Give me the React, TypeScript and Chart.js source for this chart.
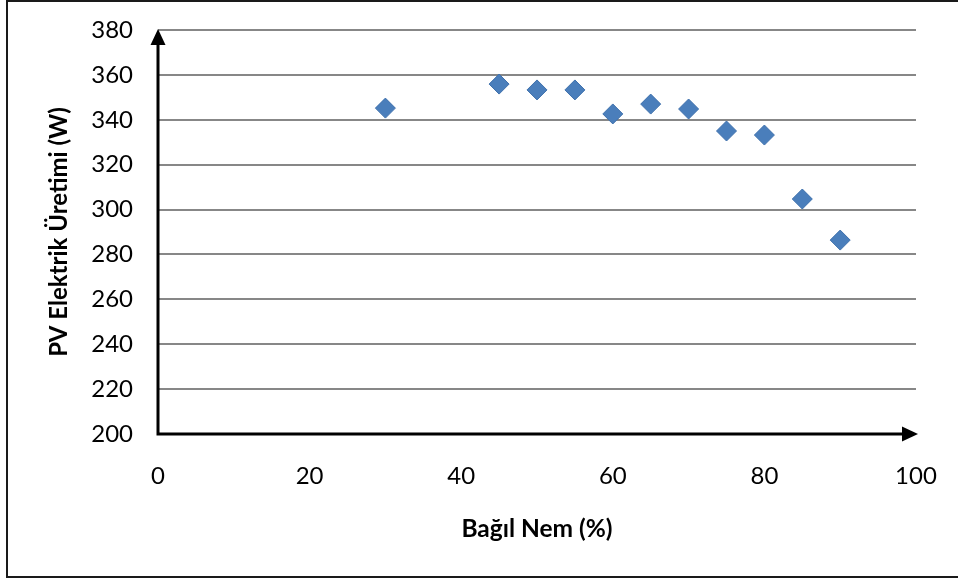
import React, { useEffect, useRef } from "react";
import { Chart, registerables } from "chart.js";

Chart.register(...registerables);

const humidity = [30, 45, 50, 55, 60, 65, 70, 75, 80, 85, 90];
const pvPower = [345.2, 355.9, 353.3, 353.3, 342.6, 347, 344.8, 335, 333.2, 304.7, 286.4];
const xTicks = [0, 20, 40, 60, 80, 100];
const yTicks = [200, 220, 240, 260, 280, 300, 320, 340, 360, 380];
const xTitle = "Bağıl Nem (%)";
const yTitle = "PV Elektrik Üretimi (W)";

const FONT = "Lato, 'Open Sans', sans-serif";

const framePlugin = {
  id: "frameAndAxes",
  beforeDraw(chart: any) {
    const ctx = chart.ctx;
    ctx.save();
    ctx.fillStyle = "#ffffff";
    ctx.fillRect(0, 0, chart.width, chart.height);
    ctx.strokeStyle = "#1a1a1a";
    ctx.lineWidth = 2;
    ctx.strokeRect(7, 1, chart.width + 20, 576);
    ctx.restore();
  },
  beforeDatasetsDraw(chart: any) {
    const ctx = chart.ctx;
    const x = chart.scales.x;
    const y = chart.scales.y;
    const x0 = x.getPixelForValue(0);
    const x1 = x.getPixelForValue(100);
    const y0 = y.getPixelForValue(200);
    const y1 = y.getPixelForValue(380);
    ctx.save();
    ctx.strokeStyle = "#000";
    ctx.fillStyle = "#000";
    ctx.lineWidth = 3;
    ctx.beginPath();
    ctx.moveTo(x0, y0);
    ctx.lineTo(x0, y1 + 12);
    ctx.moveTo(x0 - 1.5, y0);
    ctx.lineTo(x1 - 10, y0);
    ctx.stroke();
    ctx.beginPath();
    ctx.moveTo(x0, y1 - 1);
    ctx.lineTo(x0 - 7.5, y1 + 15);
    ctx.lineTo(x0 + 7.5, y1 + 15);
    ctx.closePath();
    ctx.fill();
    ctx.beginPath();
    ctx.moveTo(x1 + 2, y0);
    ctx.lineTo(x1 - 14, y0 - 7.5);
    ctx.lineTo(x1 - 14, y0 + 7.5);
    ctx.closePath();
    ctx.fill();
    ctx.restore();
  },
};

export default function App() {
  const ref = useRef<HTMLCanvasElement>(null);
  useEffect(() => {
    document.body.style.margin = "0";
    const canvas = ref.current!;
    const chart = new Chart(canvas, {
      type: "scatter",
      data: {
        datasets: [
          {
            label: "PV",
            data: humidity.map((h, i) => ({ x: h, y: pvPower[i] })),
            pointStyle: "rectRot",
            pointRadius: 10,
            backgroundColor: "#4A7EBB",
            borderColor: "#3F71AD",
            borderWidth: 1,
          },
        ],
      },
      options: {
        animation: false,
        responsive: false,
        layout: { padding: { left: 0, right: 42, top: 30, bottom: 0 } },
        plugins: { legend: { display: false }, tooltip: { enabled: false } },
        scales: {
          x: {
            type: "linear",
            min: 0,
            max: 100,
            afterBuildTicks(scale: any) {
              scale.ticks = xTicks.map((v) => ({ value: v }));
            },
            afterFit(scale: any) {
              scale.height = 146;
              scale.paddingLeft = 0;
              scale.paddingRight = 0;
            },
            grid: { display: false, drawTicks: false },
            border: { display: false },
            ticks: {
              padding: 28,
              color: "#000",
              font: { family: FONT, size: 24 },
              maxRotation: 0,
            },
            title: {
              display: true,
              text: xTitle,
              color: "#000",
              font: { family: FONT, size: 24.5, weight: "bold" },
              padding: { top: 0, bottom: 36 },
            },
          },
          y: {
            type: "linear",
            min: 200,
            max: 380,
            afterBuildTicks(scale: any) {
              scale.ticks = yTicks.map((v) => ({ value: v }));
            },
            afterFit(scale: any) {
              scale.width = 158;
              scale.paddingTop = 0;
              scale.paddingBottom = 0;
            },
            grid: {
              color: "#878787",
              lineWidth: 2,
              drawTicks: false,
            },
            border: { display: false },
            ticks: {
              padding: 25,
              color: "#000",
              font: { family: FONT, size: 24 },
            },
            title: {
              display: true,
              text: yTitle,
              color: "#000",
              font: { family: FONT, size: 24, weight: "bold" },
              padding: { top: 45, bottom: 0 },
            },
          },
        },
      },
      plugins: [framePlugin],
    });
    return () => chart.destroy();
  }, []);
  return (
    <canvas
      ref={ref}
      width={958}
      height={580}
      style={{ display: "block", width: 958, height: 580 }}
    />
  );
}
